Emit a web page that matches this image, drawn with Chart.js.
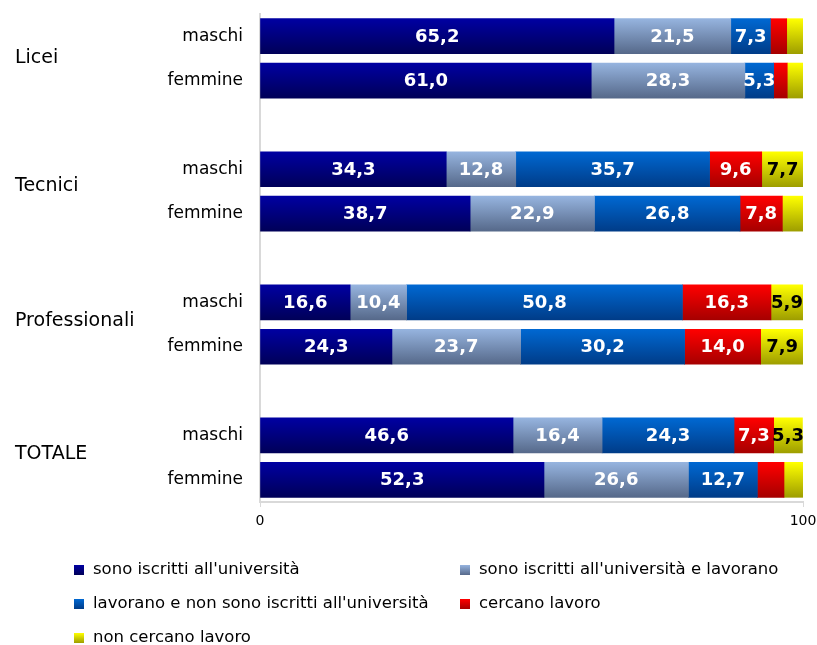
<!DOCTYPE html>
<html><head><meta charset="utf-8">
<script src="https://cdn.jsdelivr.net/npm/chart.js@4"></script>
<style>html,body{margin:0;padding:0;background:#fff}#wrap{width:817px;height:645px;position:relative}</style>
</head><body><div id="wrap"><canvas id="c" width="817" height="645"></canvas></div>
<script>
const groups = ['Licei', 'Tecnici', 'Professionali', 'TOTALE'];
const categories = ['maschi', 'femmine', '', 'maschi', 'femmine', '', 'maschi', 'femmine', '', 'maschi', 'femmine'];
const seriesNames = [
  "sono iscritti all'università",
  "sono iscritti all'università e lavorano",
  "lavorano e non sono iscritti all'università",
  "cercano lavoro",
  "non cercano lavoro"
];
const iscritti          = [65.2, 61.0, null, 34.3, 38.7, null, 16.6, 24.3, null, 46.6, 52.3];
const iscrittiLavorano  = [21.5, 28.3, null, 12.8, 22.9, null, 10.4, 23.7, null, 16.4, 26.6];
const lavoranoNonIscr   = [7.3, 5.3, null, 35.7, 26.8, null, 50.8, 30.2, null, 24.3, 12.7];
const cercanoLavoro     = [3.0, 2.5, null, 9.6, 7.8, null, 16.3, 14.0, null, 7.3, 4.9];
const nonCercanoLavoro  = [3.0, 2.9, null, 7.7, 3.8, null, 5.9, 7.9, null, 5.3, 3.5];
const xTicks = [0, 100];

const seriesValues = [iscritti, iscrittiLavorano, lavoranoNonIscr, cercanoLavoro, nonCercanoLavoro];
const gradColors = [
  ['#0000A2', '#000058'],
  ['#96B4DF', '#56698A'],
  ['#0068D2', '#003C88'],
  ['#FF0000', '#A60000'],
  ['#FFFF00', '#9E9E00']
];
const labelColors = ['#fff', '#fff', '#fff', '#fff', '#000'];
const groupLabelShift = [-0.5, -5, -3.5, -3.5];
const BAR = 35;
const FONT = "'DejaVu Sans', sans-serif";
Chart.defaults.font.family = FONT;

function makeGrad(ctx, top, h, cols) {
  const g = ctx.createLinearGradient(0, top, 0, top + h);
  g.addColorStop(0, cols[0]);
  g.addColorStop(1, cols[1]);
  return g;
}

const datasets = seriesValues.map((vals, i) => ({
  label: seriesNames[i],
  data: vals,
  barThickness: BAR,
  borderWidth: 0,
  backgroundColor: (c) => {
    const ch = c.chart;
    if (c.dataIndex === undefined || !ch.scales || !ch.scales.y || !ch.chartArea) return gradColors[i][0];
    const yc = ch.scales.y.getPixelForValue(c.dataIndex);
    return makeGrad(ch.ctx, yc - BAR / 2, BAR, gradColors[i]);
  }
}));

const fmt = v => v.toFixed(1).replace('.', ',');

const extras = {
  id: 'extras',
  afterDatasetsDraw(chart) {
    const ctx = chart.ctx;
    ctx.save();
    ctx.font = "bold 18px " + FONT;
    ctx.textAlign = 'center';
    ctx.textBaseline = 'middle';
    chart.data.datasets.forEach((ds, di) => {
      const meta = chart.getDatasetMeta(di);
      meta.data.forEach((el, i) => {
        const v = ds.data[i];
        if (v == null || v < 5) return;
        const cx = (el.x + el.base) / 2;
        ctx.fillStyle = labelColors[di];
        ctx.fillText(fmt(v), cx, el.y + 1);
      });
    });
    ctx.restore();
  },
  afterDraw(chart) {
    const ctx = chart.ctx;
    const y = chart.scales.y;
    ctx.save();
    ctx.font = "19px " + FONT;
    ctx.fillStyle = '#000';
    ctx.textAlign = 'left';
    ctx.textBaseline = 'middle';
    groups.forEach((g, gi) => {
      const yc = (y.getPixelForValue(gi * 3) + y.getPixelForValue(gi * 3 + 1)) / 2 + groupLabelShift[gi];
      ctx.fillText(g, 15, yc);
    });
    const pos = [[74, 570], [460, 570], [74, 604], [460, 604], [74, 638]];
    ctx.font = "16.5px " + FONT;
    chart.data.datasets.forEach((ds, di) => {
      const [lx, ly] = pos[di];
      ctx.fillStyle = makeGrad(ctx, ly - 5, 10, gradColors[di]);
      ctx.fillRect(lx, ly - 5, 10, 10);
      ctx.fillStyle = '#000';
      ctx.fillText(ds.label, lx + 19, ly);
    });
    ctx.restore();
  }
};

new Chart(document.getElementById('c'), {
  type: 'bar',
  data: { labels: categories, datasets },
  options: {
    indexAxis: 'y',
    responsive: false,
    animation: false,
    layout: { padding: { top: 14, bottom: 113, left: 0, right: 14 } },
    plugins: { legend: { display: false }, tooltip: { enabled: false } },
    scales: {
      x: {
        stacked: true,
        min: 0, max: 100,
        afterBuildTicks: s => { s.ticks = xTicks.map(v => ({ value: v })); },
        afterFit: s => { s.height = 30; s.paddingLeft = 0; s.paddingRight = 0; },
        grid: { display: true, drawOnChartArea: false, drawTicks: true, tickLength: 5, color: '#D9D9D9', lineWidth: 1 },
        border: { display: true, color: '#D9D9D9', width: 2 },
        ticks: { font: { size: 14 }, color: '#000', padding: 6, maxRotation: 0 }
      },
      y: {
        stacked: true,
        afterFit: s => { s.width = 260; s.paddingTop = 0; s.paddingBottom = 0; },
        grid: { display: false, drawTicks: false },
        border: { display: true, color: '#D9D9D9', width: 2 },
        ticks: { font: { size: 17 }, color: '#000', padding: 17, autoSkip: false }
      }
    }
  },
  plugins: [extras]
});
</script>
</body></html>
